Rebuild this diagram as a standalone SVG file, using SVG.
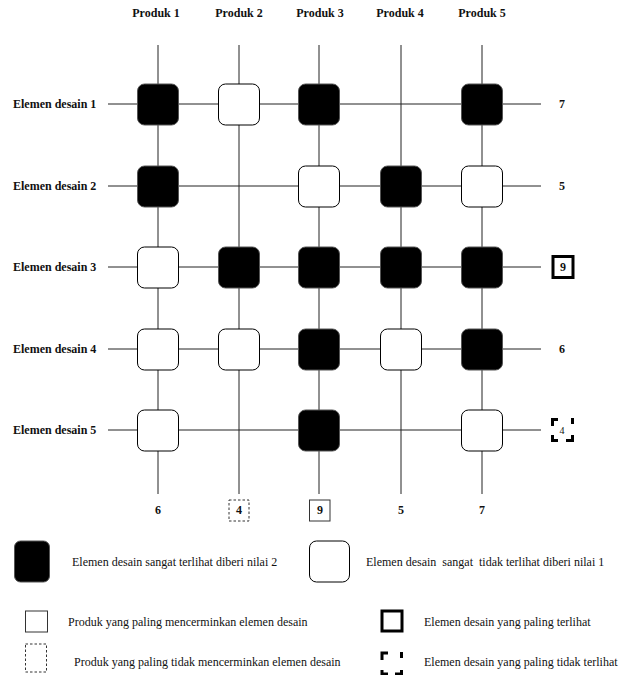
<svg xmlns="http://www.w3.org/2000/svg" width="619" height="675" viewBox="0 0 619 675">
<style>
.h{font-family:"Liberation Serif","Times New Roman",serif;font-weight:bold;font-size:12px;fill:#111}
.l{font-family:"Liberation Serif","Times New Roman",serif;font-size:12px;fill:#111;white-space:pre}
.grid line{stroke:#222;stroke-width:1}
.b{fill:#000;stroke:#555;stroke-width:1}
.w{fill:#fff;stroke:#000;stroke-width:1}
</style>
<rect width="619" height="675" fill="#fff"/>
<g id="headers" class="h" text-anchor="middle">
<text x="156" y="17">Produk 1</text>
<text x="239" y="17">Produk 2</text>
<text x="320" y="17">Produk 3</text>
<text x="400" y="17">Produk 4</text>
<text x="482" y="17">Produk 5</text>
</g>
<g id="row-labels" class="h">
<text x="13" y="108">Elemen desain 1</text>
<text x="13" y="190">Elemen desain 2</text>
<text x="13" y="271">Elemen desain 3</text>
<text x="13" y="353">Elemen desain 4</text>
<text x="13" y="434">Elemen desain 5</text>
</g>
<g id="connectors" class="grid">
<line x1="158" y1="45" x2="158" y2="494"/>
<line x1="239" y1="45" x2="239" y2="494"/>
<line x1="319" y1="45" x2="319" y2="494"/>
<line x1="401" y1="45" x2="401" y2="494"/>
<line x1="482" y1="45" x2="482" y2="494"/>
<line x1="108" y1="104" x2="541" y2="104"/>
<line x1="108" y1="186" x2="541" y2="186"/>
<line x1="108" y1="267" x2="541" y2="267"/>
<line x1="108" y1="349" x2="541" y2="349"/>
<line x1="108" y1="430" x2="541" y2="430"/>
</g>
<g id="r1">
<rect class="b" x="137.5" y="84" width="41" height="41" rx="7"/>
<rect class="w" x="218.5" y="84" width="41" height="41" rx="7"/>
<rect class="b" x="298.5" y="84" width="41" height="41" rx="7"/>
<rect class="b" x="461.5" y="84" width="41" height="41" rx="7"/>
</g>
<g id="r2">
<rect class="b" x="137.5" y="166" width="41" height="41" rx="7"/>
<rect class="w" x="298.5" y="166" width="41" height="41" rx="7"/>
<rect class="b" x="380.5" y="166" width="41" height="41" rx="7"/>
<rect class="w" x="461.5" y="166" width="41" height="41" rx="7"/>
</g>
<g id="r3">
<rect class="w" x="137.5" y="247" width="41" height="41" rx="7"/>
<rect class="b" x="218.5" y="247" width="41" height="41" rx="7"/>
<rect class="b" x="298.5" y="247" width="41" height="41" rx="7"/>
<rect class="b" x="380.5" y="247" width="41" height="41" rx="7"/>
<rect class="b" x="461.5" y="247" width="41" height="41" rx="7"/>
</g>
<g id="r4">
<rect class="w" x="137.5" y="329" width="41" height="41" rx="7"/>
<rect class="w" x="218.5" y="329" width="41" height="41" rx="7"/>
<rect class="b" x="298.5" y="329" width="41" height="41" rx="7"/>
<rect class="w" x="380.5" y="329" width="41" height="41" rx="7"/>
<rect class="b" x="461.5" y="329" width="41" height="41" rx="7"/>
</g>
<g id="r5">
<rect class="w" x="137.5" y="410" width="41" height="41" rx="7"/>
<rect class="b" x="298.5" y="410" width="41" height="41" rx="7"/>
<rect class="w" x="461.5" y="410" width="41" height="41" rx="7"/>
</g>
<g id="row-scores" class="h" text-anchor="middle">
<text x="562" y="108">7</text>
<text x="562" y="190">5</text>
<rect x="553" y="256.5" width="20" height="21" fill="none" stroke="#000" stroke-width="3"/>
<text x="563" y="271">9</text>
<text x="562" y="353">6</text>
<path d="M552.5,426 V419.5 H558 M572.5,418 V424 M552.5,435 V440.5 H558 M566,440.5 H572.5 V435" fill="none" stroke="#000" stroke-width="3"/>
<text x="562" y="434" style="font-weight:normal;font-size:10px">4</text>
</g>
<g id="col-scores" class="h" text-anchor="middle">
<text x="158" y="514">6</text>
<rect x="229" y="500" width="20" height="21" fill="none" stroke="#333" stroke-width="1" stroke-dasharray="2.5 2"/>
<text x="239" y="514">4</text>
<rect x="309.5" y="500" width="20.5" height="21" fill="none" stroke="#333" stroke-width="1"/>
<text x="320" y="514">9</text>
<text x="401" y="514">5</text>
<text x="482" y="514">7</text>
</g>
<g id="legend">
<rect x="14.5" y="541" width="35" height="41" rx="6" fill="#000" stroke="#555"/>
<text class="l" x="72" y="566">Elemen desain sangat terlihat diberi nilai 2</text>
<rect x="309.5" y="541" width="40" height="41" rx="7" fill="#fff" stroke="#000"/>
<text class="l" x="366" y="566" xml:space="preserve">Elemen desain  sangat  tidak terlihat diberi nilai 1</text>
<rect x="25.5" y="611" width="22" height="21" fill="none" stroke="#333"/>
<text class="l" x="68" y="626">Produk yang paling mencerminkan elemen desain</text>
<rect x="382" y="611" width="20" height="20" fill="none" stroke="#000" stroke-width="3"/>
<text class="l" x="424" y="626">Elemen desain yang paling terlihat</text>
<rect x="25.5" y="644" width="21" height="28" fill="none" stroke="#333" stroke-dasharray="2.5 2"/>
<text class="l" x="74" y="666">Produk yang paling tidak mencerminkan elemen desain</text>
<path d="M382,660 V653 H388 M401.5,652 V658 M382,670 V674 H388 M395,674 H401.5 V670" fill="none" stroke="#000" stroke-width="3"/>
<text class="l" x="424" y="666">Elemen desain yang paling tidak terlihat</text>
</g>
</svg>
